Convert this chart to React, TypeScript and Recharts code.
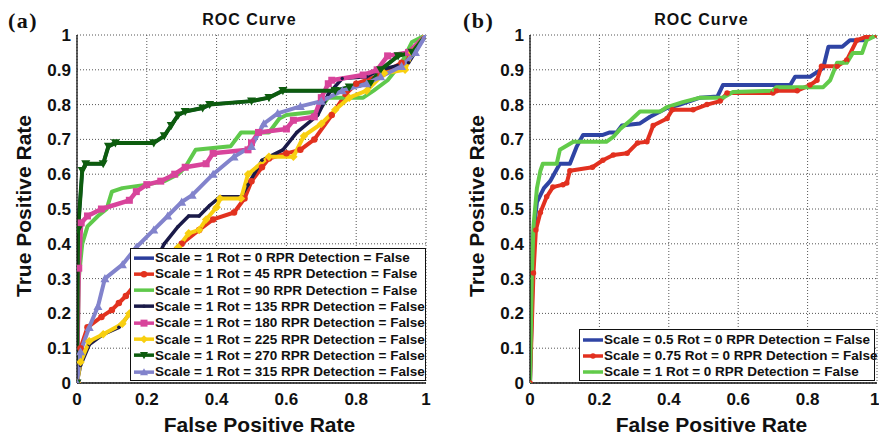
import { LineChart, Line, XAxis, YAxis, CartesianGrid } from 'recharts'

type Pt = [number, number]

// (a) Scale = 1, eight rotations — [false positive rate, true positive rate]
const rot270: Pt[] = [
  [0, 0], [0.003, 0.44], [0.015, 0.61], [0.025, 0.63], [0.075, 0.63], [0.09, 0.68], [0.11, 0.69],
  [0.22, 0.69], [0.25, 0.71], [0.27, 0.74], [0.29, 0.77], [0.31, 0.78], [0.36, 0.79], [0.38, 0.8],
  [0.5, 0.81], [0.55, 0.82], [0.59, 0.84], [0.74, 0.84], [0.78, 0.85], [0.84, 0.86], [0.87, 0.9],
  [0.92, 0.94], [0.96, 0.95], [1, 1],
]
// Rot = 0 is not visible in the figure, it sits underneath Rot = 270
const rot0: Pt[] = rot270
const rot45: Pt[] = [
  [0, 0], [0.01, 0.1], [0.03, 0.16], [0.07, 0.19], [0.1, 0.21], [0.12, 0.23], [0.14, 0.25],
  [0.18, 0.3], [0.24, 0.35], [0.3, 0.4], [0.35, 0.44], [0.39, 0.47], [0.45, 0.49], [0.48, 0.53],
  [0.5, 0.58], [0.53, 0.62], [0.55, 0.645], [0.6, 0.66], [0.64, 0.67], [0.68, 0.7], [0.73, 0.77],
  [0.77, 0.83], [0.8, 0.86], [0.87, 0.885], [0.93, 0.92], [1, 1],
]
const rot90: Pt[] = [
  [0, 0], [0.005, 0.3], [0.015, 0.4], [0.03, 0.45], [0.06, 0.48], [0.085, 0.5], [0.1, 0.55],
  [0.13, 0.56], [0.2, 0.57], [0.25, 0.58], [0.29, 0.6], [0.31, 0.62], [0.34, 0.67], [0.44, 0.68],
  [0.47, 0.72], [0.55, 0.72], [0.58, 0.76], [0.6, 0.77], [0.69, 0.78], [0.72, 0.82], [0.82, 0.82],
  [0.85, 0.84], [0.89, 0.87], [0.93, 0.92], [0.96, 0.98], [1, 1],
]
const rot135: Pt[] = [
  [0, 0], [0.01, 0.05], [0.035, 0.11], [0.075, 0.14], [0.12, 0.16], [0.16, 0.21], [0.2, 0.3],
  [0.25, 0.4], [0.29, 0.45], [0.32, 0.48], [0.35, 0.48], [0.38, 0.51], [0.41, 0.535], [0.47, 0.535],
  [0.49, 0.57], [0.53, 0.64], [0.59, 0.67], [0.63, 0.72], [0.69, 0.77], [0.72, 0.83], [0.76, 0.875],
  [0.83, 0.88], [0.87, 0.9], [0.95, 0.92], [1, 1],
]
const rot180: Pt[] = [
  [0, 0], [0.005, 0.33], [0.012, 0.46], [0.03, 0.48], [0.07, 0.5], [0.15, 0.525], [0.17, 0.55],
  [0.2, 0.57], [0.24, 0.58], [0.28, 0.6], [0.31, 0.62], [0.37, 0.63], [0.39, 0.66], [0.49, 0.67],
  [0.5, 0.69], [0.52, 0.72], [0.6, 0.73], [0.62, 0.755], [0.68, 0.765], [0.7, 0.82], [0.72, 0.86],
  [0.73, 0.87], [0.82, 0.885], [0.86, 0.9], [0.89, 0.94], [0.95, 0.95], [1, 1],
]
const rot225: Pt[] = [
  [0, 0], [0.01, 0.06], [0.035, 0.12], [0.075, 0.14], [0.13, 0.17], [0.15, 0.2], [0.2, 0.26],
  [0.25, 0.33], [0.29, 0.39], [0.32, 0.43], [0.35, 0.44], [0.37, 0.47], [0.4, 0.505], [0.41, 0.53],
  [0.47, 0.53], [0.49, 0.6], [0.55, 0.65], [0.62, 0.65], [0.65, 0.71], [0.7, 0.745], [0.74, 0.785],
  [0.78, 0.82], [0.83, 0.84], [0.88, 0.89], [0.94, 0.9], [0.96, 0.95], [1, 1],
]
const rot315: Pt[] = [
  [0, 0], [0.01, 0.09], [0.035, 0.16], [0.06, 0.22], [0.08, 0.3], [0.13, 0.34], [0.17, 0.39],
  [0.22, 0.44], [0.26, 0.48], [0.3, 0.52], [0.33, 0.54], [0.39, 0.6], [0.45, 0.65], [0.5, 0.68],
  [0.535, 0.745], [0.575, 0.775], [0.64, 0.795], [0.7, 0.81], [0.76, 0.84], [0.83, 0.86],
  [0.87, 0.88], [0.93, 0.91], [0.97, 0.95], [1, 1],
]

// (b) Rot = 0, three scales
const scale05: Pt[] = [
  [0, 0], [0.005, 0.2], [0.01, 0.43], [0.02, 0.52], [0.04, 0.56], [0.058, 0.58], [0.086, 0.63],
  [0.115, 0.63], [0.135, 0.68], [0.153, 0.713], [0.21, 0.713], [0.23, 0.72], [0.25, 0.72],
  [0.265, 0.74], [0.317, 0.746], [0.346, 0.765], [0.395, 0.79], [0.432, 0.8], [0.49, 0.82],
  [0.54, 0.823], [0.556, 0.856], [0.75, 0.856], [0.764, 0.88], [0.807, 0.88], [0.845, 0.905],
  [0.86, 0.966], [0.9, 0.966], [0.922, 0.985], [0.96, 0.985], [1, 1],
]
const scale075: Pt[] = [
  [0, 0], [0.01, 0.316], [0.017, 0.44], [0.03, 0.49], [0.048, 0.535], [0.066, 0.563], [0.095, 0.57],
  [0.106, 0.575], [0.115, 0.61], [0.18, 0.62], [0.21, 0.64], [0.24, 0.655], [0.28, 0.66],
  [0.31, 0.69], [0.337, 0.693], [0.355, 0.74], [0.395, 0.76], [0.41, 0.785], [0.47, 0.785],
  [0.51, 0.8], [0.548, 0.81], [0.568, 0.833], [0.7, 0.833], [0.71, 0.84], [0.77, 0.84],
  [0.807, 0.856], [0.827, 0.87], [0.84, 0.91], [0.885, 0.91], [0.913, 0.928], [0.942, 0.985],
  [0.97, 0.995], [1, 1],
]
const scale1: Pt[] = [
  [0, 0], [0.005, 0.3], [0.01, 0.45], [0.02, 0.56], [0.03, 0.61], [0.037, 0.63], [0.077, 0.63],
  [0.086, 0.67], [0.125, 0.693], [0.22, 0.693], [0.24, 0.707], [0.26, 0.73], [0.29, 0.755],
  [0.317, 0.78], [0.375, 0.78], [0.395, 0.793], [0.44, 0.807], [0.49, 0.82], [0.556, 0.82],
  [0.585, 0.836], [0.7, 0.84], [0.71, 0.85], [0.845, 0.85], [0.865, 0.87], [0.885, 0.92],
  [0.913, 0.92], [0.93, 0.948], [0.957, 0.948], [0.97, 0.985], [1, 1],
]

const xTicks = [0, 0.2, 0.4, 0.6, 0.8, 1]
const yTicks = [0, 0.1, 0.2, 0.3, 0.4, 0.5, 0.6, 0.7, 0.8, 0.9, 1]

type Shape = 'none' | 'circle' | 'square' | 'diamond' | 'tup' | 'tdown' | 'point'
type Series = { name: string; data: Pt[]; color: string; shape: Shape; size: number; width: number }

const seriesA: Series[] = [
  { name: 'Scale = 1 Rot = 0 RPR Detection = False', data: rot0, color: '#2b3d9c', shape: 'none', size: 0, width: 3.5 },
  { name: 'Scale = 1 Rot = 45 RPR Detection = False', data: rot45, color: '#e2321f', shape: 'circle', size: 6.5, width: 4 },
  { name: 'Scale = 1 Rot = 90 RPR Detection = False', data: rot90, color: '#5fc94b', shape: 'none', size: 0, width: 4 },
  { name: 'Scale = 1 Rot = 135 RPR Detection = False', data: rot135, color: '#1a1a48', shape: 'point', size: 3.5, width: 3.5 },
  { name: 'Scale = 1 Rot = 180 RPR Detection = False', data: rot180, color: '#d8449b', shape: 'square', size: 7, width: 4.5 },
  { name: 'Scale = 1 Rot = 225 RPR Detection = False', data: rot225, color: '#f8cf10', shape: 'diamond', size: 8.5, width: 4 },
  { name: 'Scale = 1 Rot = 270 RPR Detection = False', data: rot270, color: '#0d5c0e', shape: 'tdown', size: 9, width: 4 },
  { name: 'Scale = 1 Rot = 315 RPR Detection = False', data: rot315, color: '#8283cc', shape: 'tup', size: 9, width: 4 },
]
const seriesB: Series[] = [
  { name: 'Scale = 0.5 Rot = 0 RPR Detection = False', data: scale05, color: '#2f44a4', shape: 'none', size: 0, width: 4 },
  { name: 'Scale = 0.75 Rot = 0 RPR Detection = False', data: scale075, color: '#e2301f', shape: 'circle', size: 5.5, width: 4 },
  { name: 'Scale = 1 Rot = 0 RPR Detection = False', data: scale1, color: '#62cb4a', shape: 'point', size: 2.5, width: 4 },
]

const SANS = '"Liberation Sans", Arial, Helvetica, sans-serif'
const SERIF = '"Liberation Serif", "Times New Roman", serif'

function Marker({ shape, color, size, cx, cy }: { shape: Shape; color: string; size: number; cx: number; cy: number }) {
  const h = size / 2
  switch (shape) {
    case 'circle':
    case 'point':
      return <circle cx={cx} cy={cy} r={h} fill={color} />
    case 'square':
      return <rect x={cx - h} y={cy - h} width={size} height={size} fill={color} />
    case 'diamond':
      return <path d={`M${cx},${cy - h}L${cx + h},${cy}L${cx},${cy + h}L${cx - h},${cy}Z`} fill={color} />
    case 'tup':
      return <path d={`M${cx},${cy - h}L${cx + h},${cy + h * 0.8}L${cx - h},${cy + h * 0.8}Z`} fill={color} />
    case 'tdown':
      return <path d={`M${cx},${cy + h}L${cx + h},${cy - h * 0.8}L${cx - h},${cy - h * 0.8}Z`} fill={color} />
    default:
      return <g />
  }
}

function dotFor(s: Series) {
  if (s.shape === 'none') return false
  return (p: any) => (
    <g key={`${s.name}-${p.index}`}>
      {p.cx == null ? null : <Marker shape={s.shape} color={s.color} size={s.size} cx={p.cx} cy={p.cy} />}
    </g>
  )
}

const rows = (d: Pt[]) => d.map(([fpr, tpr]) => ({ fpr, tpr }))

function LegendBox({ series, left, top, width, height, padTop, rowH }: {
  series: Series[]; left: number; top: number; width: number; height: number; padTop: number; rowH: number
}) {
  return (
    <div
      style={{
        position: 'absolute', left, top, width, height, boxSizing: 'border-box',
        border: '1.5px solid #111', background: '#fff', paddingTop: padTop, paddingLeft: 3,
      }}
    >
      {series.map((s) => (
        <div key={s.name} style={{ display: 'flex', alignItems: 'center', height: rowH }}>
          <svg width={20} height={rowH} style={{ flex: 'none' }}>
            <line x1={0} x2={20} y1={rowH / 2} y2={rowH / 2} stroke={s.color} strokeWidth={3.5} />
            <Marker shape={s.shape} color={s.color} size={Math.min(s.size, 8)} cx={10} cy={rowH / 2} />
          </svg>
          <span style={{ font: `bold 13.5px ${SANS}`, color: '#111', whiteSpace: 'nowrap', marginLeft: 1 }}>{s.name}</span>
        </div>
      ))}
    </div>
  )
}

function Panel({ letter, series, width, yAxisW, right, legend }: {
  letter: string; series: Series[]; width: number; yAxisW: number; right: number
  legend: { left: number; top: number; width: number; height: number; padTop: number; rowH: number }
}) {
  const plotL = yAxisW
  const plotR = width - right
  const cx = (plotL + plotR) / 2
  const tick = { fill: '#111', fontSize: 17, fontWeight: 'bold', fontFamily: SANS }
  return (
    <div style={{ position: 'relative', width, height: 438 }}>
      <LineChart width={width} height={438} margin={{ top: 35, right, bottom: 0, left: 0 }}>
        <CartesianGrid strokeDasharray="1 2" stroke="#555" strokeWidth={1} />
        <XAxis
          dataKey="fpr" type="number" domain={[0, 1]} ticks={xTicks} height={55}
          tick={tick} tickSize={0} tickMargin={10} tickLine={false}
          axisLine={{ stroke: '#111', strokeWidth: 1.3 }} allowDataOverflow
        />
        <YAxis
          type="number" domain={[0, 1]} ticks={yTicks} width={yAxisW}
          tick={tick} tickSize={0} tickMargin={6} tickLine={false}
          axisLine={{ stroke: '#111', strokeWidth: 1.3 }} allowDataOverflow
        />
        {series.map((s) => (
          <Line
            key={s.name} name={s.name} data={rows(s.data)} dataKey="tpr" type="linear"
            stroke={s.color} strokeWidth={s.width} strokeLinejoin="round"
            dot={dotFor(s) as any} activeDot={false} isAnimationActive={false}
          />
        ))}
      </LineChart>
      <svg width={width} height={438} style={{ position: 'absolute', left: 0, top: 0, pointerEvents: 'none' }}>
        <text x={letter === '(a)' ? 8 : 23} y={28} fontFamily={SERIF} fontWeight="bold" fontSize={22} letterSpacing={1.5} fill="#111">
          {letter}
        </text>
        <text x={cx - 2} y={25} textAnchor="middle" fontFamily={SANS} fontWeight="bold" fontSize={16} letterSpacing={1} fill="#111">
          ROC Curve
        </text>
        <text x={cx + 8} y={432} textAnchor="middle" fontFamily={SANS} fontWeight="bold" fontSize={21} fill="#111">
          False Positive Rate
        </text>
        <text
          x={plotL - 46} y={206} textAnchor="middle" fontFamily={SANS} fontWeight="bold" fontSize={21} fill="#111"
          transform={`rotate(-90 ${plotL - 46} 206)`}
        >
          True Positive Rate
        </text>
      </svg>
      <LegendBox series={series} {...legend} />
    </div>
  )
}

export default function App() {
  return (
    <div style={{ position: 'absolute', left: 0, top: 0, width: 879, height: 438, background: '#fff', display: 'flex' }}>
      <Panel
        letter="(a)" series={seriesA} width={440} yAxisW={77} right={14}
        legend={{ left: 130, top: 248, width: 296, height: 133, padTop: 0.5, rowH: 16.3 }}
      />
      <Panel
        letter="(b)" series={seriesB} width={439} yAxisW={90} right={2}
        legend={{ left: 139, top: 329, width: 296, height: 52, padTop: 1.5, rowH: 16 }}
      />
    </div>
  )
}
